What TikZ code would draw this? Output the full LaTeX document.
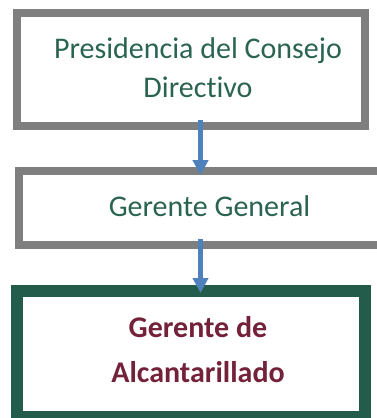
\documentclass[tikz,border=0pt]{standalone}
\usepackage{fontspec}
\setmainfont{Carlito}[Ligatures={NoCommon,NoContextual}]
\usetikzlibrary{arrows.meta}
\definecolor{frameGrey}{HTML}{7F7F7F}
\definecolor{frameGreen}{HTML}{245C4B}
\definecolor{textGreen}{HTML}{2A6450}
\definecolor{textRed}{HTML}{74213A}
\definecolor{arrowBlue}{HTML}{4F81BD}
\tikzset{
  greybox/.style={draw=frameGrey, line width=8pt, rectangle, inner sep=0pt},
  greenbox/.style={draw=frameGreen, line width=12pt, rectangle, inner sep=0pt},
  toptext/.style={text=textGreen, font=\fontsize{30}{39}\selectfont, align=center},
  bottomtext/.style={text=textRed, font=\fontsize{30}{45}\selectfont\bfseries, align=center},
  link/.style={draw=arrowBlue, line width=5pt, -{Triangle[length=15pt,width=15pt]}}
}
\begin{document}
\begin{tikzpicture}[x=1pt,y=-1pt]
      \useasboundingbox (0,0) rectangle (376,418);
      \node[greybox, minimum width=348pt, minimum height=113pt] (pres) at (191,69.3) {};
      \node[greybox, minimum width=371pt, minimum height=73.7pt] (gg) at (204.5,208) {};
      \node[greenbox, minimum width=348pt, minimum height=126pt] (alc) at (191,354) {};
      \node[toptext, anchor=base] (presT) at (198,97) {Presidencia del Consejo\\Directivo};
      \node[toptext, anchor=base] (ggT) at (209.5,216) {Gerente General};
      \node[bottomtext, anchor=base] (alcT) at (198,382) {Gerente de\\Alcantarillado};
      \coordinate (axis) at (200.5,0);
      \begin{scope}[link]
        \draw[shorten <=-10pt, shorten >=-8pt] (pres.south -| axis) to (gg.north -| axis);
        \draw[shorten <=-10pt, shorten >=-8pt] (gg.south -| axis) to (alc.north -| axis);
      \end{scope}
    \end{tikzpicture}
\end{document}
